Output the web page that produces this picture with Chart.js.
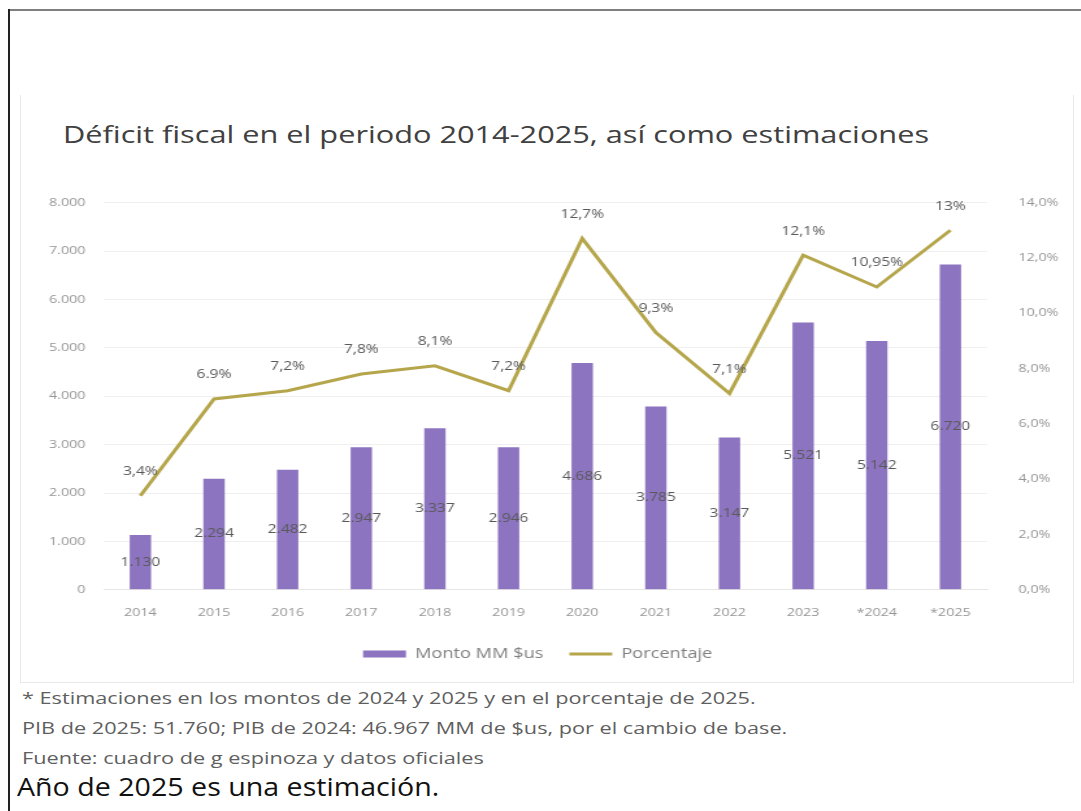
<!DOCTYPE html>
<html>
<head>
<meta charset="utf-8">
<script src="https://cdn.jsdelivr.net/npm/chart.js@4.4.0/dist/chart.umd.min.js"></script>
<style>
  html, body { margin: 0; padding: 0; background: #fff; }
  body { width: 1081px; height: 811px; position: relative; overflow: hidden; font-family: "Open Sans", sans-serif; }
  #frameTop { position: absolute; left: 8px; top: 9px; width: 1073px; height: 2px; background: #7f7f7f; }
  #frameLeft { position: absolute; left: 8px; top: 9px; width: 2px; height: 802px; background: #222; }
  #box { position: absolute; left: 20px; top: 95px; width: 1052px; height: 587px; border: 1px solid #e8e8e8; border-top: none; }
  .txt { position: absolute; white-space: nowrap; line-height: 1; transform-origin: 0 0; }
  #title { left: 63px; top: 122px; font-size: 24px; color: #404040; transform: scaleX(1.28); }
  #wrap { position: absolute; left: 10px; top: 172px; }
  .note { left: 22px; font-size: 16px; color: #5f5f5f; transform: scaleX(1.355); }
  #last { left: 17px; top: 773px; font-size: 26px; color: #111; transform: scaleX(1.1); }
</style>
</head>
<body>
<div id="frameTop"></div>
<div id="frameLeft"></div>
<div id="box"></div>
<div id="title" class="txt">Déficit fiscal en el periodo 2014-2025, así como estimaciones</div>
<div id="wrap"><canvas id="chart" width="818" height="499" style="width:1063px;height:499px;display:block"></canvas></div>
<div class="txt note" style="top:690px">* Estimaciones en los montos de 2024 y 2025 y en el porcentaje de 2025.</div>
<div class="txt note" style="top:720px">PIB de 2025: 51.760; PIB de 2024: 46.967 MM de $us, por el cambio de base.</div>
<div class="txt note" style="top:750px">Fuente: cuadro de g espinoza y datos oficiales</div>
<div id="last" class="txt">Año de 2025 es una estimación.</div>
<script>
const years = ['2014', '2015', '2016', '2017', '2018', '2019', '2020', '2021', '2022', '2023', '*2024', '*2025'];
const montos = [1130, 2294, 2482, 2947, 3337, 2946, 4686, 3785, 3147, 5521, 5142, 6720];
const porcentajes = [3.4, 6.9, 7.2, 7.8, 8.1, 7.2, 12.7, 9.3, 7.1, 12.1, 10.95, 13];
const pctLabels = ['3,4%', '6.9%', '7,2%', '7,8%', '8,1%', '7,2%', '12,7%', '9,3%', '7,1%', '12,1%', '10,95%', '13%'];

const barColor = '#8d74c0';
const lineColor = '#b5a64c';

function miles(v) {
  return String(v).replace(/\B(?=(\d{3})+(?!\d))/g, '.');
}

// etiquetas de datos (como en Excel)
const valueLabels = {
  id: 'valueLabels',
  afterDatasetsDraw(chart) {
    const ctx = chart.ctx;
    ctx.save();
    ctx.font = '12px "Open Sans"';
    ctx.fillStyle = '#595959';
    ctx.textAlign = 'center';
    ctx.textBaseline = 'middle';
    chart.getDatasetMeta(0).data.forEach((bar, i) => {
      ctx.fillText(miles(montos[i]), bar.x, (bar.y + bar.base) / 2);
    });
    chart.getDatasetMeta(1).data.forEach((pt, i) => {
      ctx.fillText(pctLabels[i], pt.x, pt.y - 24);
    });
    ctx.restore();
  }
};

const ctx = document.getElementById('chart').getContext('2d');
new Chart(ctx, {
  type: 'bar',
  data: {
    labels: years,
    datasets: [
      {
        label: 'Monto MM $us',
        data: montos,
        backgroundColor: barColor,
        borderWidth: 0,
        barPercentage: 0.58,
        categoryPercentage: 0.5,
        pointStyle: 'rect',
        yAxisID: 'y',
        order: 1
      },
      {
        type: 'line',
        label: 'Porcentaje',
        data: porcentajes,
        borderColor: lineColor,
        backgroundColor: lineColor,
        borderWidth: 3,
        pointRadius: 0,
        pointStyle: 'line',
        tension: 0,
        yAxisID: 'y1',
        order: 0
      }
    ]
  },
  options: {
    responsive: false,
    devicePixelRatio: 1,
    animation: false,
    layout: { padding: { left: 0, right: 6, top: 0, bottom: 0 } },
    plugins: {
      legend: {
        position: 'bottom',
        labels: {
          usePointStyle: true,
          pointStyleWidth: 33,
          boxHeight: 7,
          padding: 20,
          color: '#7f7f7f',
          font: { size: 14, family: 'Open Sans' },
          sort: (a, b) => a.datasetIndex - b.datasetIndex
        }
      },
      tooltip: { enabled: false }
    },
    scales: {
      x: {
        grid: { display: false },
        border: { display: true, color: '#e6e6e6' },
        ticks: { color: '#959595', font: { size: 11, family: 'Open Sans' }, padding: 8 }
      },
      y: {
        position: 'left',
        min: 0,
        max: 8000,
        afterFit: s => { s.width = 72; },
        ticks: {
          stepSize: 1000,
          padding: 14,
          color: '#959595',
          font: { size: 11, family: 'Open Sans' },
          callback: v => miles(v)
        },
        grid: { color: '#efefef', drawTicks: false },
        border: { display: false }
      },
      y1: {
        position: 'right',
        min: 0,
        max: 14,
        afterFit: s => { s.width = 60; },
        ticks: {
          stepSize: 2,
          padding: 24,
          color: '#959595',
          font: { size: 11, family: 'Open Sans' },
          callback: v => v.toFixed(1).replace('.', ',') + '%'
        },
        grid: { display: false, drawTicks: false },
        border: { display: false }
      }
    }
  },
  plugins: [valueLabels]
});
</script>
</body>
</html>
